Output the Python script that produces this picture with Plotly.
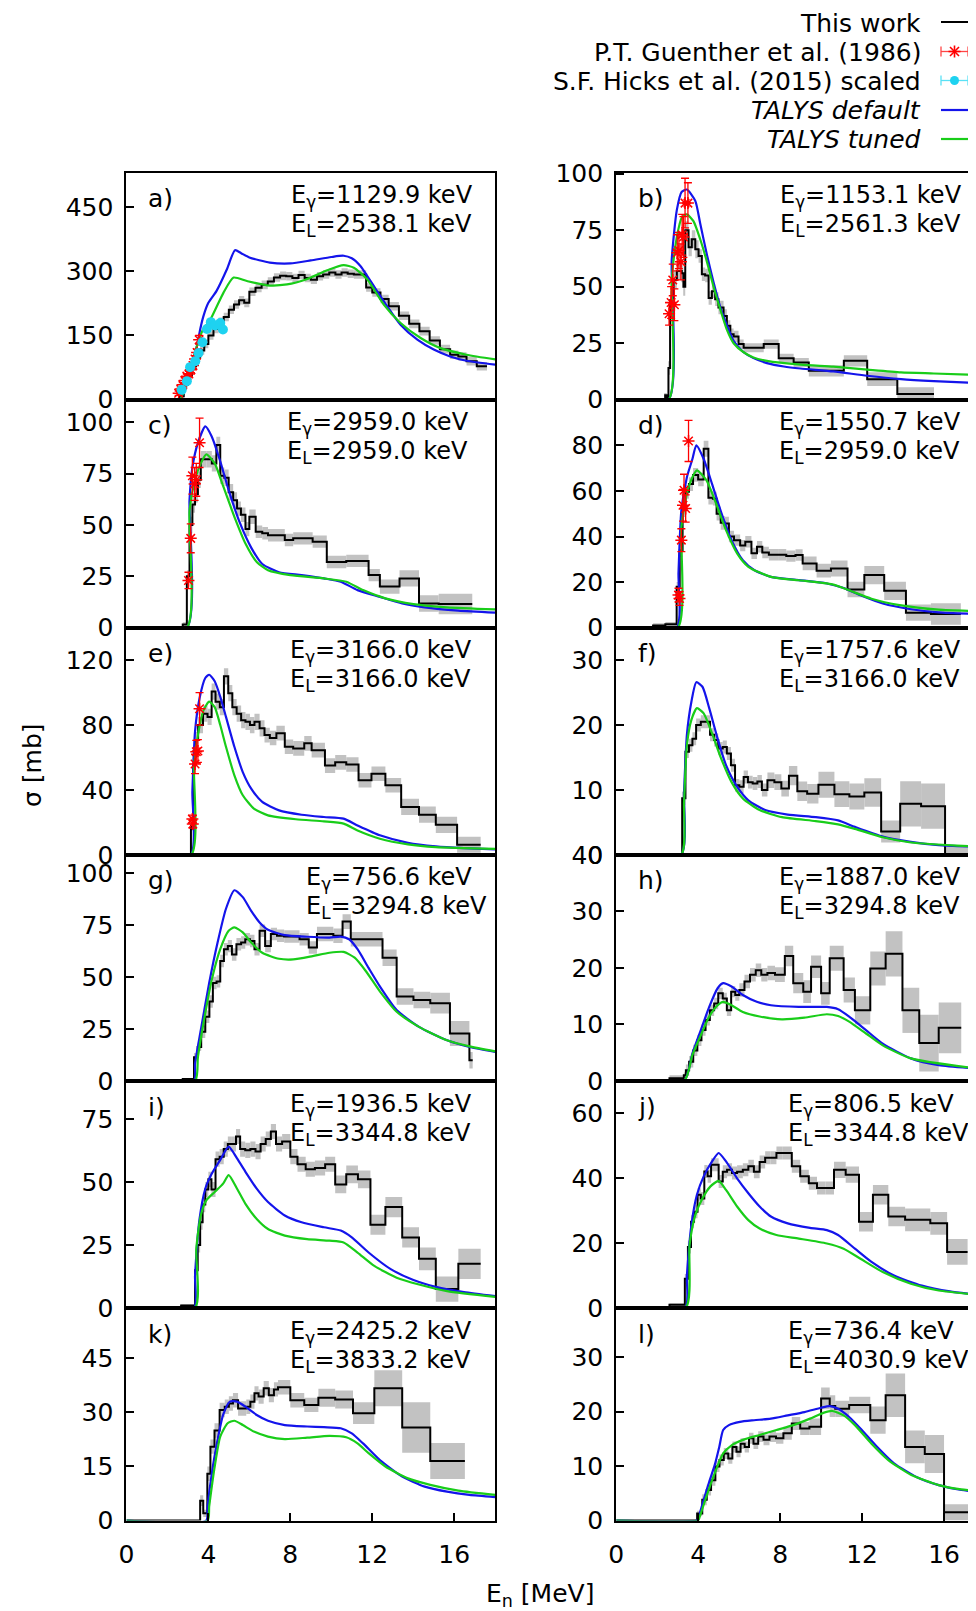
import plotly.graph_objects as go

# page size and the default 8px body margin of the html page
PAGE_W, PAGE_H = 976, 1611
OFF = 8
W, H = PAGE_W - OFF, PAGE_H - OFF

# ------------------------------------------------------------------ data
letters = ["a)", "b)", "c)", "d)", "e)", "f)", "g)", "h)", "i)", "j)", "k)", "l)"]
e_gamma = ["1129.9", "1153.1", "2959.0", "1550.7", "3166.0", "1757.6",
           "756.6", "1887.0", "1936.5", "806.5", "2425.2", "736.4"]
e_level = ["2538.1", "2561.3", "2959.0", "2959.0", "3166.0", "3166.0",
           "3294.8", "3294.8", "3344.8", "3344.8", "3833.2", "4030.9"]
y_top = [530, 100.5, 111, 100, 140, 35, 109, 40, 90, 70, 59, 39]
y_tickvals = [[0, 150, 300, 450], [0, 25, 50, 75, 100], [0, 25, 50, 75, 100],
              [0, 20, 40, 60, 80], [0, 40, 80, 120], [0, 10, 20, 30],
              [0, 25, 50, 75, 100], [0, 10, 20, 30, 40], [0, 25, 50, 75],
              [0, 20, 40, 60], [0, 15, 30, 45], [0, 10, 20, 30]]
x_tickvals = [0, 4, 8, 12, 16]

# ---- "This work" histograms: bin edges, values, uncertainties
edges_a = [2.6, 2.8, 3.0, 3.2, 3.4, 3.6, 3.8, 4.0, 4.25, 4.5,
           4.75, 5.0, 5.25, 5.5, 5.75, 6.0, 6.3, 6.6, 6.9, 7.2,
           7.5, 7.8, 8.1, 8.4, 8.7, 9.0, 9.3, 9.6, 9.9, 10.2,
           10.5, 10.8, 11.1, 11.7, 12.0, 12.4, 12.8, 13.3, 13.8, 14.3,
           14.8, 15.3, 15.8, 16.2, 16.6, 17.1, 17.6]
vals_a = [8, 35, 55, 78, 98, 115, 130, 150, 165, 182,
          193, 210, 222, 232, 226, 252, 261, 268, 276, 285,
          289, 288, 284, 291, 284, 280, 288, 292, 297, 292,
          297, 294, 292, 262, 250, 235, 218, 196, 177, 160,
          138, 118, 105, 101, 90, 78]
errs_a = [4, 7, 8, 9, 9, 10, 10, 10, 10, 10,
          10, 10, 10, 10, 10, 10, 10, 10, 10, 10,
          10, 10, 10, 10, 10, 10, 10, 10, 10, 10,
          10, 10, 10, 10, 10, 10, 10, 10, 10, 10,
          10, 10, 10, 10, 10, 10]

edges_b = [2.39, 2.47, 2.55, 2.63, 2.80, 2.96, 3.20, 3.28, 3.37, 3.53,
           3.69, 3.86, 4.02, 4.18, 4.34, 4.51, 4.67, 4.83, 4.99, 5.24,
           5.40, 5.57, 5.73, 5.97, 6.22, 7.20, 7.93, 8.66, 9.40, 11.11,
           12.25, 13.72, 15.51]
vals_b = [2, 1, 14, 44, 53, 57, 56, 50, 75, 67.5,
          71, 66.6, 63.6, 55.5, 55, 45, 48, 44.5, 40.8, 37,
          32.7, 29, 28, 24.6, 23, 24.6, 18.3, 16.5, 12.8, 17.2,
          9.1, 2.5]
errs_b = [1, 1, 3, 4, 4, 4, 4, 4, 4, 4,
          4, 4, 3, 3, 3, 3, 3, 3, 3, 3,
          2.5, 2.5, 2.5, 2, 2, 2, 2, 2, 2.5, 2.5,
          3, 3]

edges_c = [2.75, 2.95, 3.08, 3.22, 3.35, 3.49, 3.63, 3.9, 4.17, 4.39,
           4.58, 4.78, 4.99, 5.21, 5.40, 5.59, 5.81, 6.0, 6.31, 6.63,
           6.91, 7.73, 8.14, 9.09, 9.78, 10.73, 11.82, 12.37, 13.33, 14.28,
           15.24, 16.88]
vals_c = [1.6, 25, 50, 60, 65, 72, 82, 82, 80, 89,
          74, 73, 66, 62, 58, 55, 48, 54, 46.7, 46,
          45, 42.7, 43.5, 41.9, 32, 32.5, 25.6, 20, 24, 11.8,
          11.5]
errs_c = [1, 3, 4, 4, 4, 4, 4, 4, 4, 4,
          4, 4, 4, 4, 3.5, 3.5, 3.5, 3.5, 3, 3,
          3, 3, 3, 3, 3, 3, 3, 3.5, 4, 4,
          5]

edges_d = [1.8, 2.4, 2.95, 3.1, 3.24, 3.38, 3.55, 3.75, 4.0, 4.27,
           4.5, 4.72, 4.9, 5.1, 5.3, 5.5, 5.75, 6.05, 6.3, 6.6,
           6.87, 7.13, 7.45, 7.9, 8.3, 8.75, 9.1, 9.78, 10.48, 11.29,
           12.11, 13.08, 14.14, 15.36, 16.82]
vals_d = [1.0, 1.5, 18, 34, 51.5, 59.6, 63, 67, 65, 78.5,
          57, 56.6, 50, 46, 45.7, 40, 38.4, 36, 37.7, 32.6,
          35.5, 33, 32, 32, 31.4, 31.9, 28.2, 25, 26, 16.8,
          23.1, 16.2, 6.6, 6.0]
errs_d = [1, 1, 2, 3, 3, 3, 3, 3, 3, 3.5,
          3, 3, 3, 3, 3, 2.5, 2.5, 2.5, 2.5, 2.5,
          2.5, 2.5, 2.5, 2.5, 2.5, 2.5, 3, 3, 3.5, 3.4,
          4, 4, 3.6, 4.7]

edges_e = [3.15, 3.26, 3.35, 3.5, 3.74, 3.96, 4.16, 4.35, 4.56, 4.76,
           4.97, 5.17, 5.38, 5.6, 5.81, 6.03, 6.25, 6.5, 6.74, 7.0,
           7.32, 7.73, 8.14, 8.68, 9.04, 9.69, 10.19, 10.73, 11.33, 11.96,
           12.64, 13.41, 14.28, 15.1, 16.14, 17.29]
vals_e = [18, 55, 70.7, 80, 87, 85, 100.6, 94.4, 91, 110,
          99.6, 91, 87, 83, 82, 80, 82, 78, 73.8, 72,
          75, 66.6, 65.6, 68.7, 64.5, 55, 57, 55.7, 46, 50,
          42.9, 29.5, 24.7, 18.5, 6.2]
errs_e = [3, 5, 5, 5, 5, 5, 5, 5, 5, 5,
          5, 5, 5, 5, 5, 5, 5, 5, 4.5, 4.5,
          4.5, 4.5, 4.5, 4.5, 4.5, 4.5, 4.5, 4.5, 4.5, 4.5,
          4.5, 5, 5, 5, 5]

edges_f = [3.22, 3.38, 3.55, 3.72, 3.9, 4.13, 4.38, 4.58, 4.78, 4.98,
           5.2, 5.4, 5.6, 5.8, 6.01, 6.22, 6.43, 6.66, 6.89, 7.11,
           7.38, 7.72, 8.06, 8.43, 8.84, 9.32, 9.87, 10.65, 11.38, 12.11,
           12.93, 13.86, 14.88, 16.05, 17.32, 17.4]
vals_f = [8.7, 15.9, 16.9, 17.9, 20, 20.5, 20.5, 18.5, 17.7, 16.4,
          16.6, 15.6, 13.8, 10.7, 10.5, 12, 11.2, 11, 11.3, 10,
          11.5, 11.2, 10.2, 12.2, 9.8, 9.4, 10.8, 9.35, 9.0, 9.6,
          3.6, 7.85, 7.5, 0, 6.7]
errs_f = [1, 1, 1, 1, 1, 1, 1, 1, 1, 1,
          1, 1, 1, 1, 1, 1, 1, 1, 1, 1,
          1.2, 1.2, 1.2, 1.5, 1.5, 1.5, 2, 2, 2, 2.2,
          1.7, 3.5, 3.5, 1.2, 3]

edges_g = [2.75, 3.3, 3.48, 3.65, 3.85, 4.05, 4.22, 4.4, 4.58, 4.76,
           4.95, 5.15, 5.37, 5.6, 5.8, 6.03, 6.25, 6.5, 6.77, 7.05,
           7.35, 7.7, 8.45, 8.9, 9.3, 10.1, 10.55, 10.95, 12.5, 13.19,
           14.01, 14.83, 15.79, 16.74, 16.9]
vals_g = [1, 11.5, 16.4, 23.7, 31, 38.3, 47.2, 48, 57.8, 63.5,
          65, 61, 65.9, 66.7, 68.3, 67.5, 63.5, 72.4, 65, 70.8,
          70, 69.6, 68.3, 64.3, 70.8, 70, 76.8, 68.3, 59.4, 40.7,
          39, 37.5, 22.9, 10]
errs_g = [0.5, 2, 2, 3, 3, 3, 3, 3, 3, 3,
          3, 3, 3, 3, 3, 3, 3, 3, 3, 3,
          3, 3, 3, 3, 3.5, 3.5, 3.5, 3.5, 4, 4,
          4, 5, 6, 4]

edges_h = [2.6, 3.3, 3.4, 3.56, 3.76, 3.96, 4.16, 4.36, 4.57, 4.78,
           4.98, 5.2, 5.4, 5.61, 5.81, 6.01, 6.26, 6.53, 6.81, 7.08,
           7.38, 7.75, 8.23, 8.64, 9.13, 9.51, 10.0, 10.42, 11.1, 11.65,
           12.4, 13.15, 13.97, 14.79, 15.74, 16.84]
vals_h = [0.5, 1, 1.9, 3.4, 5.4, 7.2, 9, 10.8, 12.5, 13.7,
          15.5, 14.6, 12.5, 15.8, 15.2, 16.1, 17.6, 18.8, 19.6, 18.8,
          19.1, 18.8, 22.1, 17.3, 15.8, 20.2, 15.5, 21.7, 16.1, 12.5,
          19.9, 22.5, 12.5, 6.7, 9.4]
errs_h = [0.5, 0.5, 1, 1, 1, 1, 1, 1, 1, 1,
          1, 1, 1, 1, 1, 1.2, 1.2, 1.2, 1.2, 1.2,
          1.3, 1.3, 1.8, 1.8, 2, 2, 2, 2.2, 2.2, 2.5,
          3, 4, 4, 5, 4.5]

edges_i = [2.67, 3.35, 3.48, 3.6, 3.72, 3.85, 4.0, 4.15, 4.35, 4.55,
           4.75, 4.95, 5.15, 5.35, 5.55, 5.8, 6.05, 6.3, 6.55, 6.8,
           7.05, 7.3, 7.6, 8.0, 8.35, 8.75, 9.2, 9.7, 10.19, 10.73,
           11.3, 11.91, 12.64, 13.46, 14.28, 15.1, 16.2, 17.29]
vals_i = [1, 15, 25, 34, 41, 47, 51, 47, 59, 60,
          63, 65, 65, 68, 63, 62.5, 63, 62, 65, 67,
          70, 65, 66, 60, 57, 55, 55.5, 57, 49, 53,
          51, 33, 40, 28, 19.5, 7.5, 17.5]
errs_i = [0.5, 2, 3, 3, 3, 3, 3, 3, 3, 3,
          3, 3, 3, 3, 3, 3, 3, 3, 3, 3,
          3, 3, 3, 3, 3, 3, 3, 3, 3.5, 3.5,
          3.5, 4, 4, 4, 4.5, 5, 6]

edges_j = [2.6, 3.35, 3.5, 3.65, 3.8, 3.97, 4.13, 4.3, 4.46, 4.63,
           4.82, 5.0, 5.2, 5.41, 5.65, 5.9, 6.18, 6.45, 6.72, 7.0,
           7.27, 7.54, 7.82, 8.1, 8.57, 8.98, 9.4, 9.8, 10.21, 10.63,
           11.2, 11.85, 12.53, 13.28, 14.1, 15.33, 16.15, 17.15]
vals_j = [1, 9, 18.8, 26.6, 29.7, 34.9, 33.8, 42.1, 40.6, 44.2,
          44.2, 39, 42, 42.6, 41.6, 42, 42.6, 43.7, 42, 45,
          46.3, 46.3, 47.8, 47.8, 43.7, 40.6, 38.5, 37, 37, 42.6,
          41.1, 26.6, 34.9, 28.2, 27.2, 26.1, 17.3]
errs_j = [0.5, 1.5, 2, 2, 2, 2, 2, 2, 2, 2,
          2, 2, 2, 2, 2, 2, 2, 2, 2, 2,
          2, 2, 2, 2, 2, 2, 2, 2, 2, 2.5,
          2.5, 3, 3, 3, 3.5, 3.5, 4]

edges_k = [3.6, 3.75, 3.95, 4.1, 4.3, 4.55, 4.8, 5.0, 5.2, 5.45,
           5.85, 6.05, 6.25, 6.45, 6.7, 6.95, 7.2, 7.4, 8.0, 8.68,
           9.37, 10.19, 11.06, 12.1, 13.46, 14.83, 16.52]
vals_k = [5.5, 2, 13, 20.5, 25, 30.7, 31.6, 32.5, 33.4, 31.1,
          31.6, 33, 35.3, 34.4, 36.7, 34.8, 36.4, 37, 33.4, 32.1,
          34.1, 33.6, 29.8, 36.7, 25.8, 16.5]
errs_k = [1.5, 1, 2, 2, 2, 2, 2, 2, 2, 2,
          2, 2, 2, 2, 2, 2, 2, 2, 2, 2,
          2.5, 2.5, 3, 5, 7, 5]

edges_l = [3.95, 4.2, 4.42, 4.63, 4.84, 5.04, 5.25, 5.47, 5.67, 5.87,
           6.07, 6.27, 6.48, 6.7, 6.93, 7.19, 7.48, 7.8, 8.16, 8.57,
           8.98, 9.43, 10.0, 10.42, 10.69, 11.37, 12.4, 13.15, 14.1, 15.06,
           16.0, 17.2]
vals_l = [1.3, 3.8, 5.6, 7.4, 9.9, 11.1, 12.3, 11.4, 13.5, 12.6,
          14.1, 13.5, 15.1, 14.1, 15.4, 14.8, 15.4, 15.1, 16, 17.8,
          16.9, 17.2, 22.4, 21, 20.5, 21.2, 18.4, 23, 13.5, 12.2,
          1.5]
errs_l = [0.5, 1, 1, 1, 1, 1, 1, 1, 1, 1,
          1, 1, 1, 1, 1, 1, 1, 1, 1.2, 1.2,
          1.2, 1.5, 2, 2, 1.5, 1.5, 2.5, 4, 3, 3.5,
          1.5]

# ---- TALYS default (blue) and tuned (green) curves
def_x_a = [0, 2.6, 2.8, 3.0, 3.2, 3.44, 3.6, 3.76, 4.0, 4.4, 4.9, 5.3, 5.6, 6.0, 7.0, 8.0, 9.0, 10.0, 10.6, 11.0,
           11.42, 11.75, 12.24, 12.73, 13.38, 14.2, 15.0, 15.8, 16.6, 18.0]
def_y_a = [0, 0, 20, 50, 85, 125, 164, 195, 226, 254, 304, 349, 342, 332, 320, 318, 325, 333, 336, 330,
           312, 289, 253, 218, 175, 140, 117, 101, 91, 82]
tun_x_a = [0, 2.6, 2.8, 3.0, 3.2, 3.44, 3.7, 4.1, 4.74, 5.23, 5.88, 6.86, 7.84, 8.8, 9.8, 10.6, 11.1, 11.75,
           12.56, 13.38, 14.36, 15.3, 16.6, 18.0]
tun_y_a = [0, 0, 20, 50, 85, 125, 160, 187, 250, 285, 277, 267, 269, 281, 302, 314, 308, 281,
           222, 179, 144, 121, 105, 94]

def_x_b = [0, 2.55, 2.71, 2.96, 3.2, 3.45, 3.86, 4.1, 4.43, 4.75, 5.08, 5.4, 5.73, 6.22, 6.7, 7.36, 8.18, 9.0,
           10.6, 12.25, 13.9, 15.5, 18.0]
def_y_b = [0, 0, 62, 84, 92, 93, 88, 78, 64, 52, 41, 33, 26, 21, 18.4, 16.2, 14.7, 13.8,
           12.5, 10.6, 9.1, 8.2, 7.2]
tun_x_b = [0, 2.55, 2.71, 2.96, 3.2, 3.45, 3.77, 4.1, 4.43, 4.75, 5.08, 5.4, 5.73, 6.22, 6.7, 7.36, 9.0,
           10.6, 12.25, 13.9, 15.5, 18.0]
tun_y_b = [0, 0, 53, 72, 80.6, 82, 79, 71, 61, 50, 40, 31, 25, 21, 18.7, 17.2, 15.5,
           14.6, 13.3, 12.1, 11.6, 10.8]

def_x_c = [0, 2.95, 3.08, 3.22, 3.49, 3.85, 4.17, 4.58, 4.99, 5.54, 6.09, 6.63, 7.45, 8.55, 9.64, 10.46,
           11.28, 12.37, 13.46, 14.56, 16.2, 18.0]
def_y_c = [0, 0, 62, 78, 90, 98, 93, 81, 67, 51, 39, 31, 27, 25.6, 24, 22.4,
           18.3, 15, 11.8, 9.9, 8.3, 7.3]
tun_x_c = [0, 2.95, 3.08, 3.35, 3.63, 3.9, 4.31, 4.72, 5.27, 5.81, 6.36, 6.91, 8.0, 9.64, 10.73, 11.55,
           12.64, 14.01, 15.65, 18.0]
tun_y_c = [0, 0, 57, 72, 80, 84.4, 80, 69, 54, 41, 32, 28, 25.6, 24, 22.4, 18.3,
           14.3, 11.5, 9.9, 8.9]

def_x_d = [0, 2.96, 3.04, 3.18, 3.45, 3.72, 3.91, 4.27, 4.68, 5.09, 5.63, 6.18, 6.73, 7.55, 8.91, 10.28,
           11.1, 11.92, 13.01, 14.38, 15.74, 17.6]
def_y_d = [0, 0, 24, 51.5, 66, 74, 80, 74, 63, 51.5, 38.4, 29.6, 25.3, 22.3, 20.9, 19.4,
           17.4, 14.2, 10.6, 8.1, 6.7, 6.0]
tun_x_d = [0, 3.0, 3.18, 3.45, 3.72, 3.94, 4.4, 4.81, 5.36, 5.9, 6.45, 7.55, 8.91, 10.55, 11.37, 12.46,
           13.83, 15.74, 17.6]
tun_y_d = [0, 0, 44, 58.8, 66, 69, 64.7, 56, 42.8, 32.6, 26.7, 22.3, 20.8, 19.0, 16.4, 12.7,
           9.9, 7.9, 7.3]

def_x_e = [0, 3.14, 3.22, 3.35, 3.57, 3.85, 4.04, 4.31, 4.58, 4.86, 5.27, 5.68, 6.09, 6.63, 7.45, 8.55,
           9.64, 10.6, 11.28, 12.37, 13.74, 15.1, 16.47, 18.0]
def_y_e = [0, 0, 39, 76, 96.5, 109, 111, 107, 97.5, 85, 66.6, 51, 40.8, 32.6, 27.4, 24.7,
           23.3, 22.3, 18.1, 12, 7.4, 5.2, 4.1, 3.3]
tun_x_e = [0, 3.16, 3.3, 3.49, 3.76, 4.04, 4.31, 4.58, 4.86, 5.27, 5.68, 6.22, 6.91, 8.27, 9.64, 10.6,
           11.28, 12.37, 13.74, 15.1, 18.0]
tun_y_e = [0, 0, 55, 73.8, 89, 94.4, 91, 80, 66.6, 49, 36.7, 28.5, 24.3, 21.9, 20.6, 19.2,
           15, 9.9, 6.4, 4.7, 3.7]

def_x_f = [0, 3.17, 3.31, 3.45, 3.67, 3.91, 4.21, 4.54, 4.95, 5.36, 5.9, 6.45, 7.27, 8.37, 9.73, 10.83,
           11.65, 13.01, 14.38, 15.74, 17.6]
def_y_f = [0, 0, 9.7, 18.5, 23.6, 26.6, 25.9, 22.6, 17.9, 13.8, 10.5, 8.4, 6.9, 6.2, 5.8, 5.3,
           4.3, 2.8, 2.0, 1.5, 1.25]
tun_x_f = [0, 3.17, 3.31, 3.45, 3.67, 3.94, 4.27, 4.68, 5.09, 5.63, 6.18, 7.0, 8.09, 9.73, 10.83, 11.65,
           13.01, 14.38, 17.6]
tun_y_f = [0, 0, 8.1, 16.9, 20.8, 22.6, 21.8, 18.7, 15.1, 11.2, 8.7, 6.9, 5.8, 5.2, 4.7, 4.0,
           2.7, 1.9, 1.25]

def_x_g = [0, 3.3, 3.35, 3.63, 4.04, 4.45, 4.86, 5.27, 5.68, 6.09, 6.5, 6.91, 7.73, 8.82, 9.91, 10.46,
           10.87, 11.28, 11.82, 12.37, 13.19, 14.28, 15.65, 16.74, 18.0]
def_y_g = [0, 0, 8.3, 24.5, 47.2, 66.7, 83, 91.9, 88.6, 82, 76.4, 72.9, 70.3, 69.5, 69.1, 69.6,
           68.3, 63.5, 54.5, 45.6, 34.2, 26.1, 19.6, 16.4, 14]
tun_x_g = [0, 3.35, 3.49, 3.76, 4.17, 4.58, 4.99, 5.27, 5.68, 6.09, 6.63, 7.45, 8.14, 9.09, 9.91, 10.6,
           11.14, 11.69, 12.37, 13.19, 14.28, 15.65, 16.74, 18.0]
tun_y_g = [0, 0, 11.5, 27.8, 48.9, 63.5, 72.4, 74, 71.6, 66.7, 61.8, 58.9, 58.6, 60.2, 61.8, 62.2,
           59.4, 52.9, 43.2, 33.4, 26.1, 19.6, 16.7, 14.3]

def_x_h = [0, 3.31, 3.72, 4.13, 4.54, 4.95, 5.22, 5.63, 6.18, 6.86, 7.55, 8.91, 10.28, 10.83, 11.37,
           12.19, 13.01, 14.38, 15.74, 17.6]
def_y_h = [0, 0, 4.9, 9, 13.1, 16.4, 17.3, 16.7, 15.2, 14, 13.4, 13.1, 13.1, 12.7, 11.4,
           9, 6.6, 4.0, 2.8, 2.2]
tun_x_h = [0, 3.31, 3.72, 4.13, 4.54, 4.95, 5.22, 5.63, 6.18, 7.0, 8.09, 9.19, 10.28, 10.83, 11.37,
           12.19, 13.01, 14.38, 17.6]
tun_y_h = [0, 0, 4.6, 8.1, 11.4, 13.4, 14, 13.4, 12.2, 11.4, 10.9, 11.2, 11.8, 11.5, 10.5,
           8.4, 6.3, 4.0, 2.2]

def_x_i = [0, 3.3, 3.35, 3.57, 3.85, 4.17, 4.58, 4.99, 5.4, 5.81, 6.36, 6.91, 7.73, 8.55, 9.64, 10.46,
           11.0, 11.82, 12.92, 14.01, 15.1, 16.47, 18.0]
def_y_i = [0, 0, 12.7, 35.3, 47.3, 53.3, 58.7, 64, 59.3, 54, 47.3, 42, 36.7, 34, 32, 30.7,
           28, 22, 15.3, 11.1, 8.4, 6.3, 4.7]
tun_x_i = [0, 3.35, 3.41, 3.63, 3.9, 4.31, 4.72, 4.99, 5.4, 5.81, 6.36, 6.91, 7.73, 8.82, 9.91, 10.6,
           11.28, 12.1, 13.19, 14.28, 15.65, 18.0]
tun_y_i = [0, 0, 23.3, 36.7, 42.7, 46, 49.3, 52.7, 47.3, 41.3, 35.3, 31.3, 28.7, 27.3, 26.7, 26,
           22, 16.7, 12, 9.3, 6.7, 4.4]

def_x_j = [0, 3.37, 3.45, 3.67, 3.94, 4.27, 4.68, 5.0, 5.36, 5.9, 6.45, 7.0, 7.55, 8.37, 9.46, 10.28,
           10.83, 11.65, 12.46, 13.56, 14.92, 16.29, 17.6]
def_y_j = [0, 0, 10, 25.6, 34.9, 40.6, 45.2, 47.8, 45.2, 40, 35.4, 31.3, 28.2, 26.1, 24.7, 24,
           22.5, 18.3, 14.2, 10, 6.9, 5.1, 4.1]
tun_x_j = [0, 3.39, 3.58, 3.86, 4.21, 4.6, 5.0, 5.36, 5.9, 6.45, 7.0, 7.82, 8.91, 10.28, 11.1, 11.92,
           13.01, 14.38, 15.74, 17.6]
tun_y_j = [0, 0, 19.4, 28.7, 33.8, 37.5, 39.2, 36.4, 31.3, 27.1, 24.5, 22.5, 21.4, 19.9, 18.3, 15.2,
           11.1, 7.5, 5.4, 4.1]

def_x_k = [0, 3.9, 3.96, 4.17, 4.45, 4.72, 5.05, 5.4, 5.81, 6.36, 6.91, 7.73, 8.82, 9.64, 10.46, 11.0,
           11.55, 12.37, 13.46, 14.56, 15.65, 16.74, 18.0]
def_y_k = [0, 0, 3.9, 13.1, 22.4, 29.3, 33, 33, 31.6, 29.3, 27.7, 26.5, 26.1, 25.9, 25.6, 24.2,
           21.4, 16.8, 12.2, 9.4, 8.0, 7.1, 6.5]
tun_x_k = [0, 3.96, 4.04, 4.31, 4.58, 4.94, 5.27, 5.68, 6.22, 6.91, 7.73, 8.82, 9.91, 10.73, 11.28,
           11.82, 12.64, 13.74, 14.83, 16.2, 18.0]
tun_y_k = [0, 0, 3.9, 15, 23.3, 27, 27.7, 26.5, 24.7, 23.3, 22.6, 23, 23.5, 23.1, 21.4,
           18.7, 15, 11.7, 9.9, 8.3, 7.1]

def_x_l = [0, 3.94, 4.0, 4.27, 4.54, 4.81, 5.03, 5.22, 5.5, 6.04, 6.73, 7.55, 8.37, 9.19, 10.0, 10.42,
           10.83, 11.37, 11.92, 12.74, 13.56, 14.65, 15.74, 16.84, 17.6]
def_y_l = [0, 0, 0.4, 3.8, 7.1, 10.2, 13.5, 16.6, 17.5, 18.1, 18.4, 18.7, 19.3, 19.9, 20.7, 21,
           20.5, 19, 16.9, 13.5, 10.5, 8.0, 6.5, 5.6, 5.3]
tun_x_l = [0, 4.0, 4.05, 4.4, 4.81, 5.22, 5.63, 6.18, 7.0, 7.82, 8.64, 9.46, 10.14, 10.55, 11.1, 11.65,
           12.46, 13.28, 14.38, 15.74, 16.84, 17.6]
tun_y_l = [0, 0, 0.4, 4.4, 8.7, 12.3, 13.8, 14.8, 15.7, 16.6, 17.5, 18.7, 19.8, 20.1, 19.3, 17.5,
           14.1, 11.1, 8.4, 6.5, 5.7, 5.4]

# ---- P.T. Guenther et al. (1986)
gu_a_e = [2.55, 2.65, 2.75, 2.85, 2.95, 3.05, 3.15, 3.25, 3.35, 3.45, 3.55]
gu_a_s = [15, 25, 35, 45, 55, 60, 70, 80, 95, 110, 140]
gu_a_err = [5, 5, 5, 6, 6, 6, 7, 7, 8, 8, 10]
gu_b_e = [2.58, 2.68, 2.76, 2.84, 2.98, 3.06, 3.16, 3.22, 3.28, 3.36, 3.5]
gu_b_s = [38, 43, 53, 42, 65, 66, 61, 73, 72, 87, 87]
gu_b_err = [5, 7, 7, 7, 8, 8, 8, 9, 9, 11, 9]
gu_c_e = [3.03, 3.14, 3.22, 3.33, 3.41, 3.57]
gu_c_s = [23, 43.5, 74, 70, 72, 90]
gu_c_err = [4, 7, 9, 8, 8, 12]
gu_d_e = [3.04, 3.09, 3.18, 3.26, 3.31, 3.39, 3.53]
gu_d_s = [14.3, 12.8, 38.4, 53.7, 60.3, 52.3, 81.9]
gu_d_err = [3, 3, 5, 7, 7, 6, 9]
gu_e_e = [3.22, 3.24, 3.35, 3.41, 3.49, 3.57]
gu_e_s = [22, 19, 56, 63.5, 64, 90]
gu_e_err = [2.5, 2.5, 6, 7, 7, 10]

# ---- S.F. Hicks et al. (2015) scaled
hi_a_e = [2.7, 2.95, 3.11, 3.36, 3.52, 3.71, 3.93, 4.12, 4.33, 4.58, 4.71]
hi_a_s = [23, 43, 76, 90, 109, 134, 165, 181, 173, 179, 164]

legend_labels = ["This work", "P.T. Guenther et al. (1986)", "S.F. Hicks et al. (2015) scaled",
                 "<i>TALYS default</i>", "<i>TALYS tuned</i>"]

# ------------------------------------------------------------------ tables built from the arrays
keys = "abcdefghijkl"
work = {"a": (edges_a, vals_a, errs_a), "b": (edges_b, vals_b, errs_b), "c": (edges_c, vals_c, errs_c),
        "d": (edges_d, vals_d, errs_d), "e": (edges_e, vals_e, errs_e), "f": (edges_f, vals_f, errs_f),
        "g": (edges_g, vals_g, errs_g), "h": (edges_h, vals_h, errs_h), "i": (edges_i, vals_i, errs_i),
        "j": (edges_j, vals_j, errs_j), "k": (edges_k, vals_k, errs_k), "l": (edges_l, vals_l, errs_l)}
talys_def = {"a": (def_x_a, def_y_a), "b": (def_x_b, def_y_b), "c": (def_x_c, def_y_c), "d": (def_x_d, def_y_d),
             "e": (def_x_e, def_y_e), "f": (def_x_f, def_y_f), "g": (def_x_g, def_y_g), "h": (def_x_h, def_y_h),
             "i": (def_x_i, def_y_i), "j": (def_x_j, def_y_j), "k": (def_x_k, def_y_k), "l": (def_x_l, def_y_l)}
talys_tun = {"a": (tun_x_a, tun_y_a), "b": (tun_x_b, tun_y_b), "c": (tun_x_c, tun_y_c), "d": (tun_x_d, tun_y_d),
             "e": (tun_x_e, tun_y_e), "f": (tun_x_f, tun_y_f), "g": (tun_x_g, tun_y_g), "h": (tun_x_h, tun_y_h),
             "i": (tun_x_i, tun_y_i), "j": (tun_x_j, tun_y_j), "k": (tun_x_k, tun_y_k), "l": (tun_x_l, tun_y_l)}
guenther = {"a": (gu_a_e, gu_a_s, gu_a_err), "b": (gu_b_e, gu_b_s, gu_b_err), "c": (gu_c_e, gu_c_s, gu_c_err),
            "d": (gu_d_e, gu_d_s, gu_d_err), "e": (gu_e_e, gu_e_s, gu_e_err)}
hicks = {"a": (hi_a_e, hi_a_s)}

# ------------------------------------------------------------------ geometry / style (page pixels)
col_px = [(126.4, 495.2), (616.2, 976.0)]
row_px = [(172.6, 399.7), (399.7, 627.7), (627.7, 854.8), (854.8, 1081.0), (1081.0, 1308.0), (1308.0, 1520.5)]
mev_px = 20.49
label_dx = [165, 164, 161, 163, 164, 163, 180, 163, 164, 172, 164, 172]

FONT = "DejaVu Sans"
FS = 25
FS_E = 24
BLACK = "black"
GREY = "#c2c2c2"
BLUE = "rgb(20,20,235)"
GREEN = "rgb(25,205,25)"
RED = "rgb(255,0,0)"
CYAN = "rgb(30,210,240)"


def px(x):
    return (x - OFF) / W


def py(y):
    return 1 - (y - OFF) / H


fig = go.Figure()
layout_axes = {}
annotations = []

for i, key in enumerate(keys):
    n = i + 1
    sfx = "" if n == 1 else str(n)
    xa, ya = "x" + sfx, "y" + sfx
    row, col = divmod(i, 2)
    x0, x1 = col_px[col]
    ytop, ybot = row_px[row]
    bottom = row == 5

    edges, vals, errs = work[key]
    centers = [(edges[k] + edges[k + 1]) / 2 for k in range(len(vals))]
    widths = [edges[k + 1] - edges[k] for k in range(len(vals))]
    fig.add_trace(go.Bar(x=centers, y=[2 * e for e in errs], base=[v - e for v, e in zip(vals, errs)],
                         width=widths, marker=dict(color=GREY, line=dict(width=0)),
                         xaxis=xa, yaxis=ya, hoverinfo="skip"))
    fig.add_trace(go.Scatter(x=[0] + edges, y=[0] + vals + [vals[-1]], mode="lines",
                             line=dict(color=BLACK, width=2, shape="hv"), xaxis=xa, yaxis=ya))
    dx, dy = talys_def[key]
    fig.add_trace(go.Scatter(x=dx, y=dy, mode="lines",
                             line=dict(color=BLUE, width=2.2, shape="spline", smoothing=0.6),
                             xaxis=xa, yaxis=ya))
    tx, ty = talys_tun[key]
    fig.add_trace(go.Scatter(x=tx, y=ty, mode="lines",
                             line=dict(color=GREEN, width=2.2, shape="spline", smoothing=0.6),
                             xaxis=xa, yaxis=ya))
    if key in guenther:
        ge, gs, gerr = guenther[key]
        fig.add_trace(go.Scatter(x=ge, y=gs, mode="markers",
                                 marker=dict(symbol="asterisk-open", size=10, color=RED,
                                             line=dict(color=RED, width=1.5)),
                                 error_y=dict(type="data", array=gerr, color=RED, thickness=1.3, width=4),
                                 xaxis=xa, yaxis=ya))
    if key in hicks:
        he, hs = hicks[key]
        fig.add_trace(go.Scatter(x=he, y=hs, mode="markers",
                                 marker=dict(symbol="circle", size=10, color=CYAN, line=dict(width=0)),
                                 xaxis=xa, yaxis=ya))

    layout_axes["xaxis" + sfx] = dict(
        domain=[px(x0), min(1.0, px(x1))], range=[0, (x1 - x0) / mev_px], anchor=ya,
        showline=True, linecolor=BLACK, linewidth=2, mirror=True,
        showgrid=False, zeroline=False, automargin=False, fixedrange=True,
        ticks="inside" if bottom else "", ticklen=8, tickwidth=1.5, tickcolor=BLACK,
        tickvals=x_tickvals if bottom else [], showticklabels=bottom,
        ticklabelstandoff=10, tickfont=dict(family=FONT, size=FS, color=BLACK))
    layout_axes["yaxis" + sfx] = dict(
        domain=[py(ybot), py(ytop)], range=[0, y_top[i]], anchor=xa,
        showline=True, linecolor=BLACK, linewidth=2, mirror=(col == 0),
        showgrid=False, zeroline=False, automargin=False, fixedrange=True,
        ticks="inside", ticklen=8, tickwidth=1.5, tickcolor=BLACK,
        tickvals=y_tickvals[i], ticklabelstandoff=6,
        tickfont=dict(family=FONT, size=FS, color=BLACK))

    annotations.append(dict(text=letters[i], x=px(x0 + 20), y=py(ytop + 26), xref="paper", yref="paper",
                            xanchor="left", yanchor="middle", showarrow=False))
    annotations.append(dict(text="E<sub>γ</sub>=" + e_gamma[i] + " keV", x=px(x0 + label_dx[i] - 2),
                            y=py(ytop + 24), xref="paper", yref="paper", font=dict(size=FS_E),
                            xanchor="left", yanchor="middle", showarrow=False))
    annotations.append(dict(text="E<sub>L</sub>=" + e_level[i] + " keV", x=px(x0 + label_dx[i] - 2),
                            y=py(ytop + 53), xref="paper", yref="paper", font=dict(size=FS_E),
                            xanchor="left", yanchor="middle", showarrow=False))

# axis titles
annotations.append(dict(text="σ [mb]", x=px(32), y=py(765), xref="paper", yref="paper", textangle=-90,
                        xanchor="center", yanchor="middle", showarrow=False))
annotations.append(dict(text="E<sub>n</sub> [MeV]", x=px(540), y=py(1595), xref="paper", yref="paper",
                        xanchor="center", yanchor="middle", showarrow=False))

# legend: right-aligned texts with the samples drawn to their right
leg_y = [22, 51.5, 80.5, 110, 139]
for lab, yy in zip(legend_labels, leg_y):
    annotations.append(dict(text=lab, x=px(923), y=py(yy + 1), xref="paper", yref="paper",
                            xanchor="right", yanchor="middle", showarrow=False))

shapes = []
lx0, lx1, lxc = 941, 968, 954.5


def pline(xa_, ya_, xb_, yb_, color, width):
    return dict(type="line", xref="paper", yref="paper", x0=px(xa_), y0=py(ya_), x1=px(xb_), y1=py(yb_),
                line=dict(color=color, width=width))


shapes.append(pline(lx0, leg_y[0], lx1, leg_y[0], BLACK, 2))
yy = leg_y[1]
shapes.append(pline(lx0, yy, lx1, yy, "rgb(255,70,70)", 1.3))
shapes.append(pline(lx0, yy - 5, lx0, yy + 5, "rgb(255,70,70)", 1.3))
shapes.append(pline(lx1, yy - 5, lx1, yy + 5, "rgb(255,70,70)", 1.3))
shapes.append(pline(lxc - 6, yy, lxc + 6, yy, RED, 1.6))
shapes.append(pline(lxc, yy - 6, lxc, yy + 6, RED, 1.6))
shapes.append(pline(lxc - 4.5, yy - 4.5, lxc + 4.5, yy + 4.5, RED, 1.6))
shapes.append(pline(lxc - 4.5, yy + 4.5, lxc + 4.5, yy - 4.5, RED, 1.6))
yy = leg_y[2]
shapes.append(pline(lx0, yy, lx1, yy, "rgb(90,225,245)", 1.3))
shapes.append(pline(lx0, yy - 5, lx0, yy + 5, "rgb(90,225,245)", 1.3))
shapes.append(pline(lx1, yy - 5, lx1, yy + 5, "rgb(90,225,245)", 1.3))
shapes.append(dict(type="circle", xref="paper", yref="paper", x0=px(lxc - 4.5), x1=px(lxc + 4.5),
                   y0=py(yy + 4.5), y1=py(yy - 4.5), fillcolor=CYAN, line=dict(width=0)))
shapes.append(pline(lx0, leg_y[3], lx1, leg_y[3], BLUE, 2.2))
shapes.append(pline(lx0, leg_y[4], lx1, leg_y[4], GREEN, 2.2))

fig.update_layout(
    width=W, height=H, autosize=False, template="none",
    margin=dict(l=0, r=0, t=0, b=0, pad=0),
    paper_bgcolor="white", plot_bgcolor="white",
    showlegend=False, barmode="overlay",
    font=dict(family=FONT, size=FS, color=BLACK),
    annotations=annotations, shapes=shapes,
    **layout_axes)

fig.write_html("out.html")
